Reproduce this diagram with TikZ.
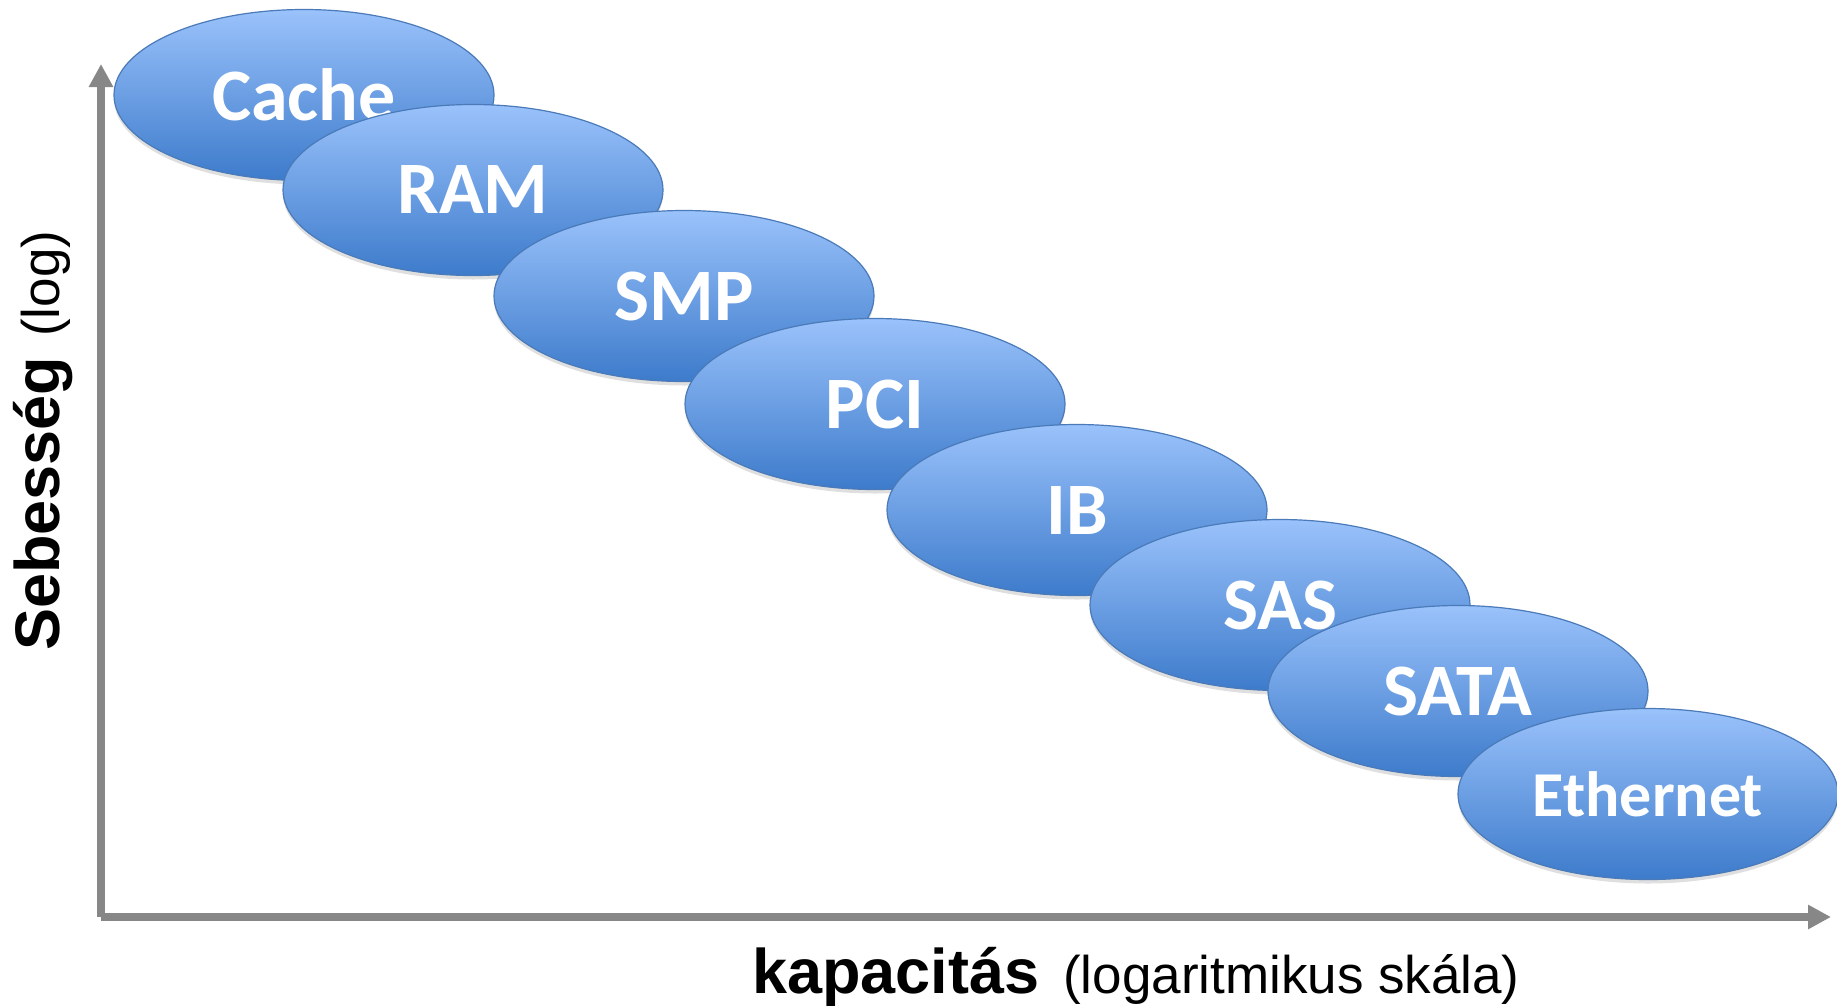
\documentclass[tikz,border=0pt]{standalone}
\usepackage{fontspec}
\setmainfont{Liberation Sans}
\newfontfamily\calfont{Carlito}
\usetikzlibrary{arrows.meta,shapes.geometric,shadows}
\definecolor{axisgray}{HTML}{878787}
\definecolor{elltop}{HTML}{9AC2FB}
\definecolor{ellbot}{HTML}{3D7BCB}
\definecolor{ellborder}{HTML}{4A7AB8}
\tikzset{
  bus/.style={ellipse, draw=ellborder, line width=1.2pt, top color=elltop, bottom color=ellbot,
    minimum width=380pt, minimum height=171pt, inner sep=0pt,
    text=white, font=\calfont\bfseries\fontsize{74}{82}\selectfont,
    drop shadow={opacity=0.25, shadow xshift=0pt, shadow yshift=-4pt}},
  axisline/.style={draw=axisgray, line width=7.5pt, -{Triangle[length=23pt,width=23pt]}},
  axbold/.style={font=\bfseries\fontsize{63}{70}\selectfont, inner sep=0pt},
  axreg/.style={font=\fontsize{53}{60}\selectfont, inner sep=0pt}
}
\begin{document}
\begin{tikzpicture}[x=1pt,y=-1pt]
\useasboundingbox (0,0) rectangle (1837,1005);
\coordinate (origin) at (101,917);
\coordinate (ytop) at (101,64);
\coordinate (xend) at (1831,917);
\draw[axisline] (origin) -- (ytop);
\draw[axisline] (origin) -- (xend);

\node[bus] (cache) at (304,95) {Cache};
\node[bus] (ram) at (473,190) {RAM};
\node[bus] (smp) at (684,296) {SMP};
\node[bus] (pci) at (875,404) {PCI};
\node[bus] (ib) at (1077,510) {IB};
\node[bus] (sas) at (1280,605) {SAS};
\node[bus] (sata) at (1458,691) {SATA};
\node[bus, font=\calfont\bfseries\fontsize{64}{72}\selectfont] (eth) at (1648,794) {Ethernet};

\node[axbold, anchor=base west] (xlab) at (752,993) {kapacitás};
\node[axreg, anchor=base west] (xlab2) at (1063,993) {(logaritmikus skála)};
\node[axbold, anchor=base west, rotate=90] (ylab) at (59,651) {Sebesség};
\node[axreg, anchor=base west, rotate=90] (ylab2) at (59,337) {(log)};
\end{tikzpicture}
\end{document}
